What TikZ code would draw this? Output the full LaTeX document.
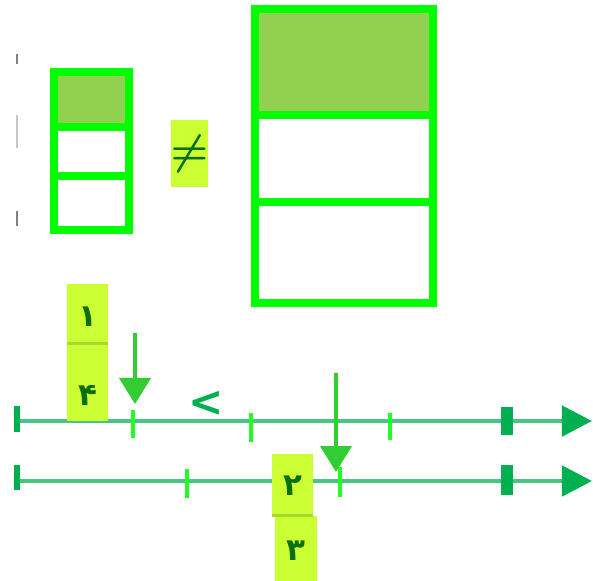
\documentclass[tikz,border=0pt]{standalone}
\usepackage{fontspec}
\TeXXeTstate=1
\newfontfamily\arabicfont[Script=Arabic]{DejaVu Sans}
\newfontfamily\signfont{DejaVu Sans}
\usetikzlibrary{arrows.meta,positioning}
\definecolor{boxgreen}{HTML}{00FF00}
\definecolor{shadegreen}{HTML}{92D050}
\definecolor{axisgreen}{HTML}{46C583}
\definecolor{tickgreen}{HTML}{22FF22}
\definecolor{endgreen}{HTML}{00B050}
\definecolor{arrowgreen}{HTML}{33CC33}
\definecolor{fracyellow}{HTML}{CCFF33}
\definecolor{barolive}{HTML}{A6D82E}
\definecolor{digitgreen}{HTML}{0B6E12}
\tikzset{
  boxline/.style={draw=boxgreen,line width=5.5pt,line join=miter},
  axisline/.style={draw=axisgreen,line width=3.5pt,-{Triangle[color=endgreen,width=0.75cm,length=0.75cm]}},
  pointer/.style={draw=arrowgreen,fill=arrowgreen,line width=2.5pt,-{Triangle[width=0.78cm,length=0.65cm]}},
  fracpart/.style={fill=fracyellow,inner sep=0pt,minimum width=1.03cm},
  digit/.style={inner sep=0pt,text=digitgreen,font=\fontsize{22}{22}\arabicfont\bfseries},
}
\begin{document}
\begin{tikzpicture}[x=0.025cm,y=-0.025cm,line join=round]
\useasboundingbox (0,0) rectangle (593,580);
% faint marks at the left edge
\draw[line width=2pt,gray] (17,54)--(17,64) (17,211)--(17,226);
\draw[line width=2pt,gray!45] (17,115)--(17,148);
% small box, one third shaded
\coordinate (A) at (54,72);
\coordinate (B) at (129,230);
\fill[shadegreen] (A) rectangle (129,127);
\draw[boxline] (A) rectangle (B) (54,127)--(129,127) (54,176)--(129,176);
% big box, one third shaded
\coordinate (C) at (255,9);
\coordinate (D) at (433,303);
\fill[shadegreen] (C) rectangle (433,115);
\draw[boxline] (C) rectangle (D) (255,115)--(433,115) (255,202)--(433,202);
% sign between them
\node[fill=fracyellow,inner sep=0pt,minimum width=0.83cm,minimum height=1.68cm,text=digitgreen] (neq) at (189.5,153.5) {\scalebox{3}{\boldmath$\neq$}};
% number lines
\coordinate (L1s) at (18,421);
\coordinate (L1e) at (592,421);
\coordinate (L2s) at (18,481);
\coordinate (L2e) at (592,481);
\draw[axisline] (L1s)--(L1e);
\draw[axisline] (L2s)--(L2e);
\foreach \a/\b in {406/432,465/490}{\draw[endgreen,line width=4pt] (17,\a)--(17,\b);}
\foreach \x/\a/\b in {133/410/438,251/413/442,390/413/440,187/469/498,340/467/497}{\draw[tickgreen,line width=3pt] (\x,\a)--(\x,\b);}
\foreach \a/\b in {407/435,465/495}{\draw[endgreen,line width=8.5pt] (507,\a)--(507,\b);}
\node[text=endgreen,inner sep=0pt,font=\fontsize{30}{30}\signfont\bfseries] (lt) at (206,404) {<};
% fraction 1/4
\node[fracpart,minimum height=1.48cm] (F1n) at (87.5,313.5) {};
\node[fracpart,minimum height=1.93cm,below=0pt of F1n] (F1d) {};
\draw[barolive,line width=2pt] (F1n.south west)--(F1n.south east);
\node[digit] (F1a) at (87.5,317) {\beginR ۱\endR};
\node[digit] (F1b) at (87.5,395) {\beginR ۴\endR};
% fraction 2/3
\node[fracpart,minimum height=1.53cm] (F2n) at (292.5,484.5) {};
\node[fracpart,minimum height=1.63cm,below=0pt of F2n,xshift=2.5] (F2d) {};
\draw[barolive,line width=2pt] (F2n.south west)--(F2n.south east);
\node[digit] (F2a) at (292.5,486) {\beginR ۲\endR};
\node[digit] (F2b) at (296,551) {\beginR ۳\endR};
% pointers
\coordinate (P1) at (135,333);
\coordinate (Q1) at (135,404);
\coordinate (P2) at (336,373);
\coordinate (Q2) at (336,472);
\draw[pointer] (P1)--(Q1);
\draw[pointer] (P2)--(Q2);
\end{tikzpicture}
\end{document}
